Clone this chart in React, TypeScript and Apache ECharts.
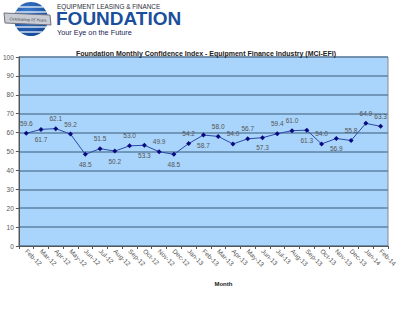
import React, { useEffect, useRef } from "react";
import * as echarts from "echarts";

const categories = [
  "Feb-12", "Mar-12", "Apr-12", "May-12", "Jun-12", "Jul-12", "Aug-12", "Sep-12", "Oct-12",
  "Nov-12", "Dec-12", "Jan-13", "Feb-13", "Mar-13", "Apr-13", "May-13", "Jun-13", "Jul-13",
  "Aug-13", "Sep-13", "Oct-13", "Nov-13", "Dec-13", "Jan-14", "Feb-14",
];
const values = [
  59.6, 61.7, 62.1, 59.2, 48.5, 51.5, 50.2, 53.0, 53.3, 49.9, 48.5, 54.2, 58.7, 58.0, 54.0,
  56.7, 57.3, 59.4, 61.0, 61.3, 54.0, 56.9, 55.8, 64.9, 63.3,
];
// label placement per point: 1 = above, 0 = below
const labelAbove = [1, 0, 1, 1, 0, 1, 0, 1, 0, 1, 0, 1, 0, 1, 1, 1, 0, 1, 1, 0, 1, 0, 1, 1, 1];

const FONT = "'Liberation Sans', Arial, sans-serif";

export default function App() {
  const ref = useRef<HTMLDivElement>(null);
  useEffect(() => {
    if (!ref.current) return;
    const chart = echarts.init(ref.current, undefined, { renderer: "svg" });
    const R = 17;
    const cx = 31;
    const cy = 19;
    const stripes = [-12, -7, -2, 3, 8, 13].map((dy) => {
      const hw = Math.sqrt(R * R - dy * dy);
      return {
        type: "line",
        shape: { x1: cx - hw, y1: cy + dy, x2: cx + hw, y2: cy + dy },
        style: { stroke: "#ffffff", lineWidth: 1.2 },
      };
    });
    chart.setOption({
      animation: false,
      backgroundColor: "#ffffff",
      title: {
        text: "Foundation Monthly Confidence Index - Equipment Finance Industry (MCI-EFI)",
        left: 201,
        textAlign: "center",
        top: 45,
        textStyle: { fontSize: 7, fontWeight: "bold", color: "#222222", fontFamily: FONT },
      },
      graphic: [
        {
          type: "circle",
          shape: { cx, cy, r: R },
          style: {
            fill: new echarts.graphic.RadialGradient(0.4, 0.35, 0.8, [
              { offset: 0, color: "#3f7fd0" },
              { offset: 1, color: "#0d3f8f" },
            ]),
          },
        },
        ...stripes,
        {
          type: "polygon",
          shape: { points: [[4, 13], [50, 15], [51, 25], [5, 23]] },
          style: { fill: "#c9ccd3", stroke: "#6d7380", lineWidth: 1 },
        },
        {
          type: "text",
          x: 28,
          y: 19.5,
          rotation: -0.04,
          style: {
            text: "Celebrating 15 Years",
            fontSize: 4,
            fontStyle: "italic",
            fill: "#3a3f4a",
            fontFamily: FONT,
            align: "center",
            verticalAlign: "middle",
          },
        },
        {
          type: "text",
          x: 57,
          y: 3,
          style: {
            text: "EQUIPMENT LEASING & FINANCE",
            fontSize: 6.4,
            fill: "#2a2e3a",
            fontFamily: FONT,
          },
        },
        {
          type: "text",
          x: 56,
          y: 9,
          style: {
            text: "FOUNDATION",
            fontSize: 19,
            fontWeight: "bold",
            fill: "#1b4f9c",
            fontFamily: FONT,
          },
        },
        {
          type: "text",
          x: 57,
          y: 28.5,
          style: {
            text: "Your Eye on the Future",
            fontSize: 7.3,
            fill: "#1a2452",
            fontFamily: FONT,
          },
        },
      ],
      grid: {
        left: 16,
        right: 12,
        top: 57,
        bottom: 80,
        show: true,
        backgroundColor: "#a9d4fb",
        borderColor: "#8a8a8a",
        borderWidth: 1,
      },
      xAxis: {
        type: "category",
        data: categories,
        boundaryGap: true,
        name: "Month",
        nameLocation: "middle",
        nameGap: 35,
        nameTextStyle: { fontSize: 6, fontWeight: "bold", color: "#222222", fontFamily: FONT, padding: [0, 0, 0, 40] },
        axisLine: { lineStyle: { color: "#555555", width: 1 } },
        axisTick: { show: true, length: 3, lineStyle: { color: "#555555" } },
        axisLabel: { rotate: -45, fontSize: 6.5, color: "#555555", fontFamily: FONT, margin: 4, interval: 0 },
      },
      yAxis: {
        type: "value",
        min: 0,
        max: 100,
        interval: 10,
        axisLine: { show: true, lineStyle: { color: "#555555", width: 1 } },
        axisTick: { show: true, length: 3, lineStyle: { color: "#555555" } },
        axisLabel: { fontSize: 6.5, color: "#555555", fontFamily: FONT, margin: 5 },
        splitLine: { lineStyle: { color: "#5f83a6", width: 1.5 } },
      },
      series: [
        {
          type: "line",
          data: values.map((v, i) => ({
            value: v,
            label: { position: labelAbove[i] ? "top" : "bottom" },
          })),
          symbol: "diamond",
          symbolSize: 5,
          itemStyle: { color: "#0a0a80" },
          lineStyle: { color: "#2b4aa8", width: 1 },
          label: {
            show: true,
            fontSize: 6.5,
            color: "#555555",
            fontFamily: FONT,
            distance: 4,
            formatter: (p: any) => Number(p.value).toFixed(1),
          },
        },
      ],
    });
    return () => chart.dispose();
  }, []);
  return (
    <div
      ref={ref}
      style={{ position: "absolute", left: 0, top: 0, width: 400, height: 326 }}
    />
  );
}
